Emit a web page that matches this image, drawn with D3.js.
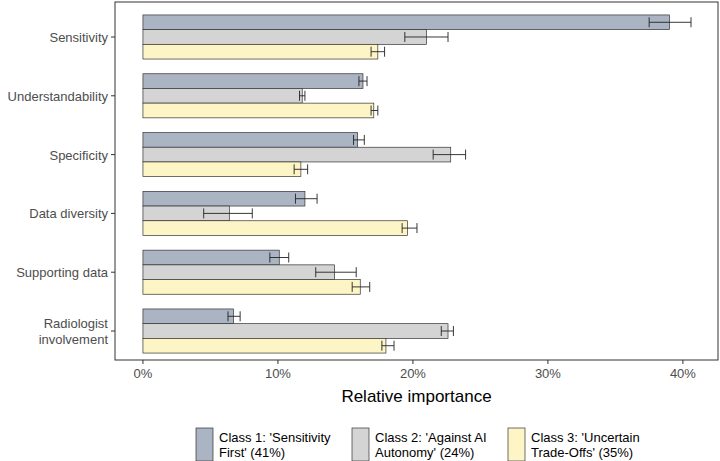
<!DOCTYPE html>
<html><head><meta charset="utf-8">
<script src="https://cdn.jsdelivr.net/npm/d3@7"></script>
<style>body{margin:0;background:#fff}text{font-family:Arial,"Liberation Sans",sans-serif}</style>
</head><body><svg id="c" width="720" height="461"></svg>
<script>
var categories = ["Sensitivity","Understandability","Specificity","Data diversity","Supporting data","Radiologist involvement"];
var classes = ["Class 1: 'Sensitivity First' (41%)","Class 2: 'Against AI Autonomy' (24%)","Class 3: 'Uncertain Trade-Offs' (35%)"];
var colors = ["#aab4c3","#d4d4d4","#fdf5c5"];
var values = [[39.0,21.0,17.4],[16.3,11.8,17.1],[15.9,22.8,11.7],[12.0,6.4,19.6],[10.1,14.2,16.1],[6.7,22.6,18.0]];
var lows = [[37.5,19.4,16.9],[16.0,11.6,16.9],[15.6,21.5,11.2],[11.3,4.5,19.2],[9.4,12.8,15.5],[6.3,22.1,17.7]];
var highs = [[40.6,22.6,17.9],[16.6,12.0,17.4],[16.4,23.9,12.2],[12.9,8.1,20.3],[10.8,15.8,16.8],[7.2,23.0,18.6]];
var xTicks = [0,10,20,30,40];

var svg = d3.select("#c");
var L = 115, R = 718, T = 2, B = 360;
var x = d3.scaleLinear().domain([-2.07, 42.6]).range([L, R]);
var y = d3.scaleBand().domain(categories).range([T + 10, B - 4]).paddingInner(0.25).paddingOuter(0.05);
var yi = d3.scaleBand().domain([0,1,2]).range([0, y.bandwidth()]);

svg.append("rect").attr("x", L).attr("y", T).attr("width", R - L).attr("height", B - T)
  .attr("fill", "none").attr("stroke", "#333").attr("stroke-width", 1);

var g = svg.append("g").selectAll("g").data(categories).enter().append("g")
  .attr("transform", function(d){ return "translate(0," + y(d) + ")"; });
g.each(function(c, i){
  var s = d3.select(this);
  [0,1,2].forEach(function(k){
    var yy = yi(k), h = yi.bandwidth();
    s.append("rect").attr("x", x(0)).attr("y", yy).attr("width", x(values[i][k]) - x(0)).attr("height", h)
      .attr("fill", colors[k]).attr("stroke", "#333").attr("stroke-width", 0.7);
    var cy = yy + h / 2;
    s.append("path").attr("d", "M" + x(lows[i][k]) + "," + cy + "H" + x(highs[i][k]) +
      "M" + x(lows[i][k]) + "," + (cy - 5) + "V" + (cy + 5) + "M" + x(highs[i][k]) + "," + (cy - 5) + "V" + (cy + 5))
      .attr("stroke", "#222").attr("fill", "none").attr("stroke-width", 0.9);
  });
});

// x axis
var xa = svg.append("g");
xTicks.forEach(function(t){
  xa.append("line").attr("x1", x(t)).attr("x2", x(t)).attr("y1", B).attr("y2", B + 4).attr("stroke", "#333");
  xa.append("text").attr("x", x(t)).attr("y", B + 18).attr("text-anchor", "middle").attr("font-size", 13).attr("fill", "#4d4d4d").text(t + "%");
});
svg.append("text").attr("x", (L + R) / 2).attr("y", B + 42).attr("text-anchor", "middle").attr("font-size", 17).attr("fill", "#000").text("Relative importance");

// y axis
categories.forEach(function(c){
  var cy = y(c) + y.bandwidth() / 2;
  svg.append("line").attr("x1", L - 4).attr("x2", L).attr("y1", cy).attr("y2", cy).attr("stroke", "#333");
  var lines = c === "Radiologist involvement" ? ["Radiologist","involvement"] : [c];
  lines.forEach(function(l, j){
    svg.append("text").attr("x", L - 7).attr("y", cy + 5 + (j - (lines.length - 1) / 2) * 16)
      .attr("text-anchor", "end").attr("font-size", 13).attr("fill", "#4d4d4d").text(l);
  });
});

// legend
var legX = [196, 352, 508], leg1 = [["Class 1: 'Sensitivity","First' (41%)"],["Class 2: 'Against AI","Autonomy' (24%)"],["Class 3: 'Uncertain","Trade-Offs' (35%)"]];
legX.forEach(function(lx, k){
  svg.append("rect").attr("x", lx).attr("y", 428).attr("width", 17).attr("height", 33)
    .attr("fill", colors[k]).attr("stroke", "#333").attr("stroke-width", 0.7);
  leg1[k].forEach(function(l, j){
    svg.append("text").attr("x", lx + 23).attr("y", 442 + j * 15).attr("font-size", 13).attr("fill", "#000").text(l);
  });
});
</script></body></html>
